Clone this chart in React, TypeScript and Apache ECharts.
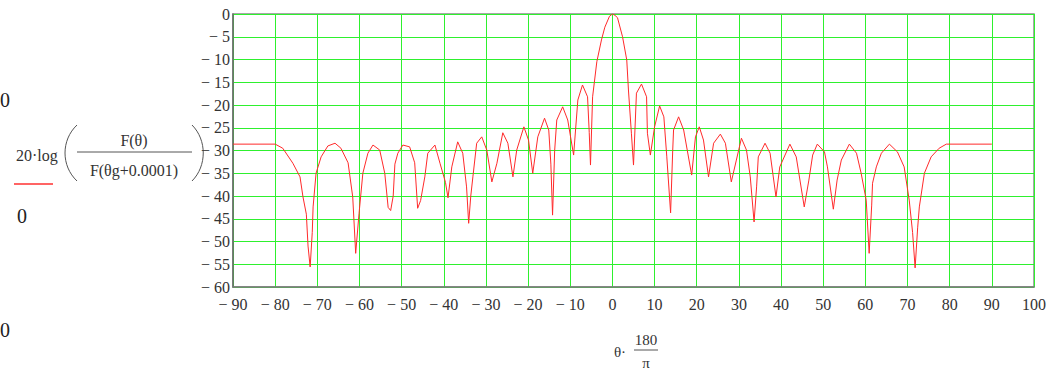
import React, { useEffect, useRef } from "react";
import * as echarts from "echarts";

// Angle (degrees) of each vertex of the traced pattern
const thetaDeg: number[] = [
  -90, -80, -78.2, -75.8, -74.1, -73.4, -72.6, -72.2, -71.7, -71.2, -71, -70.3, -69.1, -67.5, -65.8,
  -64.4, -62.7, -61.6, -60.9, -60.1, -59.2, -58, -56.8, -55.2, -54, -53.2, -52.6, -52, -51.6, -50.9,
  -49.7, -48.1, -46.9, -46.2, -45.5, -44.5, -43.8, -42.1, -40.9, -39.6, -39, -38.1, -36.7, -35.5,
  -34.6, -34.1, -33.6, -33.1, -32.2, -31, -29.8, -28.6, -27.4, -26, -24.8, -23.6, -22.7, -21, -19.9,
  -18.9, -17.7, -16.1, -15.1, -14.6, -14.2, -13.7, -13.2, -11.8, -10.6, -9.2, -8.2, -7.1, -5.9, -5.5,
  -5.2, -4.7, -3.7, -2.6, -1.8, -0.7, 0, 0.6, 1.2, 2.4, 3.4, 3.8, 4.5, 5, 5.7, 6.9, 8.1, 8.3, 9, 10,
  11.2, 12.2, 12.9, 13.8, 14.3, 14.5, 15.7, 16.9, 18.8, 19.7, 20.6, 21.6, 22.8, 24, 25.6, 26.8, 28.2,
  29.4, 30.6, 31.8, 32.7, 33.6, 34.2, 34.6, 36.2, 37.4, 38.8, 39.7, 42.1, 43.6, 45.5, 46.6, 47.5,
  48.6, 50.3, 51, 52.4, 53.3, 54.3, 56.2, 57.9, 59, 60.2, 60.9, 61.5, 61.7, 62.6, 63.8, 65.7, 67.6,
  69.2, 70.4, 71.2, 71.8, 72.4, 72.8, 74, 75.6, 77.5, 79.2, 90,
];

// 20·log(F(θ)/F(θg+0.0001)) in dB at each vertex
const gainDb: number[] = [
  -28.6, -28.6, -29.5, -32.8, -35.8, -40.2, -44, -51, -55.6, -48, -42.4, -35, -31.4, -29, -28.4,
  -29.5, -32.7, -40.2, -52.6, -43.8, -35, -30.6, -28.8, -29.9, -35, -42.5, -43.2, -40, -33, -30.6,
  -28.8, -29.2, -32.7, -42.7, -41, -35.8, -30.6, -28.8, -32.8, -37, -40.4, -33.6, -28.1, -30.6,
  -38, -46, -40, -35.8, -28.4, -27, -29.9, -36.9, -32.8, -26.1, -28.4, -35.8, -29.9, -24.8, -27.7,
  -35, -27, -22.9, -25.5, -33, -44.2, -30, -23.3, -20.4, -23.3, -31, -18.9, -15.6, -18.2, -26,
  -33.2, -18.2, -10.5, -5.7, -2.9, -0.5, 0, -0.3, -0.8, -5, -10.1, -16.7, -26.2, -33.2, -17.4, -15.4, -18.2, -26.2, -31, -24.8,
  -20.2, -22.6, -31.4, -43.7, -30, -25.5, -22.6, -25.5, -35.4, -27, -24.8, -27.7, -35.8, -28.4, -26.4, -28.4, -36.9,
  -32.1, -27.3, -29.9, -35.8, -45.7, -38, -31.4, -28.4, -30.6, -40.2, -33.6, -28.6, -31.4, -42.4, -36.5, -31,
  -28.6, -30.3, -33.6, -42.9, -36.5, -32.1, -28.6, -30.6, -35, -40.9, -52.6, -42, -37.2, -33.6, -30.6, -28.6, -30.3,
  -33.6, -40.9, -48, -55.8, -47, -42.4, -35, -31.4, -29.5, -28.6, -28.6,
];

const xMin = -90;
const xMax = 100;
const xStep = 10;
const yMin = -60;
const yMax = 0;
const yStep = 5;

const fmt = (v: number) => (v < 0 ? "\u2212 " + Math.abs(v) : String(v));

export default function App() {
  const ref = useRef<HTMLDivElement>(null);
  useEffect(() => {
    if (!ref.current) return;
    const chart = echarts.init(ref.current, null, { renderer: "svg" });
    const data = thetaDeg.map((t, i) => [t, gainDb[i]]);
    const serif = "'Liberation Serif', 'DejaVu Serif', serif";
    const green = "#2ef02e";
    chart.setOption({
      animation: false,
      backgroundColor: "#ffffff",
      grid: {
        left: 233,
        top: 14,
        width: 801,
        height: 273,
        show: true,
        borderColor: "#8a8a8a",
        borderWidth: 1.5,
        backgroundColor: "transparent",
      },
      xAxis: {
        type: "value",
        min: xMin,
        max: xMax,
        interval: xStep,
        axisLine: { show: true, onZero: false, lineStyle: { color: "#7a7a7a", width: 1.5 } },
        axisTick: { show: false },
        splitLine: { show: true, lineStyle: { color: green, width: 1 } },
        axisLabel: {
          formatter: fmt,
          fontFamily: serif,
          fontSize: 16,
          color: "#333",
          margin: 9,
          showMinLabel: true,
          showMaxLabel: true,
        },
      },
      yAxis: {
        type: "value",
        min: yMin,
        max: yMax,
        interval: yStep,
        axisLine: { show: true, onZero: false, lineStyle: { color: "#6a6a6a", width: 1.5 } },
        axisTick: { show: false },
        splitLine: { show: true, lineStyle: { color: green, width: 1 } },
        axisLabel: {
          formatter: fmt,
          fontFamily: serif,
          fontSize: 16,
          color: "#333",
          margin: 3,
          padding: [6, 0, 0, 0],
        },
      },
      series: [
        {
          type: "line",
          data,
          showSymbol: false,
          symbol: "none",
          lineStyle: { color: "#ff2a2a", width: 1 },
          z: 5,
        },
      ],
      graphic: [
        { type: "text", x: 16, y: 155, style: { text: "20\u00b7log", font: "16px " + serif, fill: "#333", verticalAlign: "middle" } },
        {
          type: "bezierCurve",
          shape: { x1: 77, y1: 125, x2: 77, y2: 181, cpx1: 61, cpy1: 140, cpx2: 61, cpy2: 166 },
          style: { stroke: "#555", lineWidth: 1, fill: null },
        },
        {
          type: "bezierCurve",
          shape: { x1: 192, y1: 125, x2: 192, y2: 181, cpx1: 207, cpy1: 140, cpx2: 207, cpy2: 166 },
          style: { stroke: "#555", lineWidth: 1, fill: null },
        },
        { type: "text", x: 134, y: 140, style: { text: "F(\u03b8)", font: "16px " + serif, fill: "#333", align: "center", verticalAlign: "middle" } },
        { type: "line", shape: { x1: 77, y1: 152, x2: 192, y2: 152 }, style: { stroke: "#555", lineWidth: 1 } },
        { type: "text", x: 134, y: 170, style: { text: "F(\u03b8g+0.0001)", font: "16px " + serif, fill: "#333", align: "center", verticalAlign: "middle" } },
        { type: "line", shape: { x1: 14, y1: 184, x2: 53, y2: 184 }, style: { stroke: "#ff3030", lineWidth: 1.5 } },
        { type: "text", x: 22, y: 216, style: { text: "0", font: "20px " + serif, fill: "#222", align: "center", verticalAlign: "middle" } },
        { type: "text", x: 0, y: 100, style: { text: "0", font: "20px " + serif, fill: "#222", align: "left", verticalAlign: "middle" } },
        { type: "text", x: 0, y: 330, style: { text: "0", font: "20px " + serif, fill: "#222", align: "left", verticalAlign: "middle" } },
        { type: "text", x: 620, y: 352, style: { text: "\u03b8\u00b7", font: "15px " + serif, fill: "#333", align: "center", verticalAlign: "middle" } },
        { type: "text", x: 646, y: 340, style: { text: "180", font: "15px " + serif, fill: "#333", align: "center", verticalAlign: "middle" } },
        { type: "line", shape: { x1: 634, y1: 350, x2: 658, y2: 350 }, style: { stroke: "#555", lineWidth: 1 } },
        { type: "text", x: 646, y: 363, style: { text: "\u03c0", font: "15px " + serif, fill: "#333", align: "center", verticalAlign: "middle" } },
      ],
    });
    return () => chart.dispose();
  }, []);
  return (
    <div
      ref={ref}
      style={{ position: "absolute", left: 0, top: 0, width: 1055, height: 374, background: "#fff" }}
    />
  );
}
